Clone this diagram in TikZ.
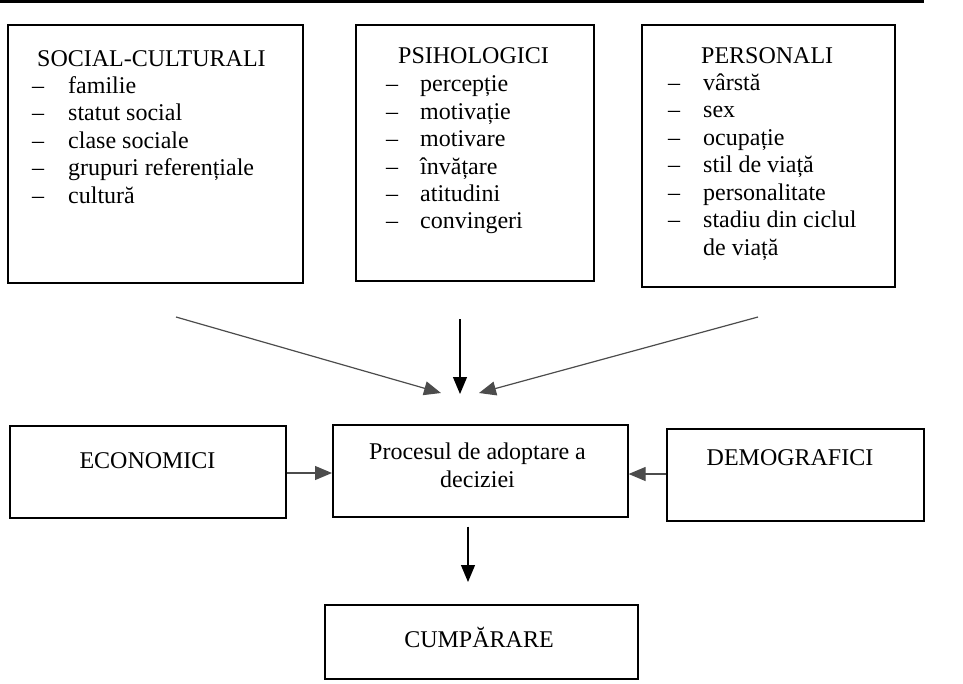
\documentclass[tikz,border=0pt]{standalone}
\usepackage{fontspec}
\setmainfont{Liberation Serif}
\usetikzlibrary{arrows.meta}
\begin{document}
\begin{tikzpicture}[x=1pt,y=-1pt,
  box/.style={draw, line width=1.6pt, anchor=north west, inner sep=0pt},
  txt/.style={anchor=base west, inner sep=0pt},
  ctxt/.style={anchor=base, inner sep=0pt},
  arr/.style={line width=1.2pt, -{Triangle[length=17pt,width=14pt]}},
  garr/.style={arr, draw=black!70}
]
\useasboundingbox (0,0) rectangle (963,683);
\fontsize{24}{27.4}\selectfont
% top rule
\draw[line width=3pt] (0,1.5) -- (924,1.5);

% box 1
\node[box, minimum width=295pt, minimum height=258pt] (soc) at (7,24) {};
\node[txt] (socH) at (37,66) {SOCIAL-CULTURALI};
\foreach \t [count=\i] in {familie, statut social, clase sociale, grupuri referențiale, cultură}{
  \node[txt] (socD\i) at (32,{66+27.4*\i}) {–};
  \node[txt] (socT\i) at (68,{66+27.4*\i}) {\t};
}

% box 2
\node[box, minimum width=238pt, minimum height=256pt] (psi) at (355,24) {};
\node[txt] (psiH) at (398,63) {PSIHOLOGICI};
\foreach \t [count=\i] in {percepție, motivație, motivare, învățare, atitudini, convingeri}{
  \node[txt] (psiD\i) at (386,{64.5+27.4*\i}) {–};
  \node[txt] (psiT\i) at (420,{64.5+27.4*\i}) {\t};
}

% box 3
\node[box, minimum width=253pt, minimum height=262pt] (per) at (641,24) {};
\node[txt] (perH) at (701,63) {PERSONALI};
\foreach \t [count=\i] in {vârstă, sex, ocupație, stil de viață, personalitate, stadiu din ciclul}{
  \node[txt] (perD\i) at (668,{62.5+27.5*\i}) {–};
  \node[txt] (perT\i) at (703,{62.5+27.5*\i}) {\t};
}
\node[txt] (perT7) at (703,255) {de viață};

% bottom row
\node[box, minimum width=276pt, minimum height=92pt] (eco) at (9,425) {};
\node[ctxt] (ecoT) at (147.5,468) {ECONOMICI};
\node[box, minimum width=295pt, minimum height=92pt] (proc) at (332,424) {};
\node[ctxt] (procT1) at (477.5,459) {Procesul de adoptare a};
\node[ctxt] (procT2) at (477.5,487) {deciziei};
\node[box, minimum width=257pt, minimum height=92pt] (dem) at (666,428) {};
\node[ctxt] (demT) at (790,465) {DEMOGRAFICI};
\node[box, minimum width=313pt, minimum height=74pt] (cump) at (324,604) {};
\node[ctxt] (cumpT) at (479,647) {CUMPĂRARE};

% converging arrows
\coordinate (aL1) at (176,317);
\coordinate (aL2) at (441,393);
\coordinate (aC1) at (460,319);
\coordinate (aC2) at (460,394);
\coordinate (aR1) at (758,317);
\coordinate (aR2) at (479,393);
\draw[garr] (aL1) -- (aL2);
\draw[arr] (aC1) -- (aC2);
\draw[garr] (aR1) -- (aR2);

% side arrows
\draw[garr] (eco.east |- 0,473) -- (proc.west |- 0,473);
\draw[garr] (dem.west |- 0,474) -- (proc.east |- 0,474);
% down arrow
\draw[arr, shorten <=9pt, shorten >=22pt] (proc.south -| 468,0) -- (cump.north -| 468,0);
\end{tikzpicture}
\end{document}
